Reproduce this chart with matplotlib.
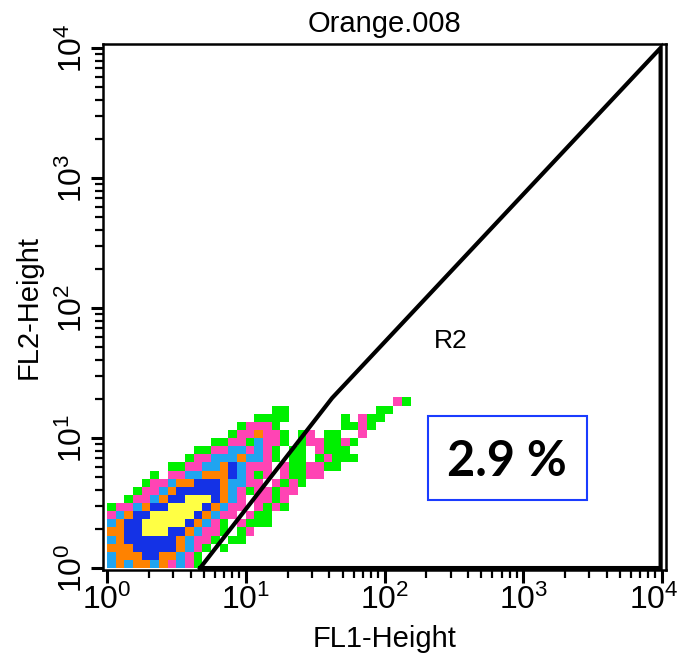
import numpy as np
import matplotlib
matplotlib.use('Agg')
import matplotlib.pyplot as plt
import matplotlib.transforms as mtrans
from matplotlib.colors import ListedColormap, BoundaryNorm
from matplotlib.ticker import LogLocator, NullFormatter
from matplotlib.patches import Rectangle

plt.rcParams['font.family'] = ['Liberation Sans', 'DejaVu Sans']

# density level per bin (16 bins per decade), bottom row first
# . = empty, 1 green, 2 pink, 3 light blue, 4 orange, 5 blue, 6 yellow
density_rows = [
    "34344342321",
    "34445544321",
    "444555554321.1",
    "3455555543221.11",
    "44556665543221.12",
    "34556666654321.2111",
    "234556666654322.211",
    "1223455666654322.2121",
    "..12234556665432.2212",
    "...1223455555432122122",
    "....12234455543322.2121",
    ".....1.223344453212.21122",
    ".......112233453222.2112211",
    ".........12233343321.11.12111",
    "..........1122332321.11.2111",
    "............112213221.1221121",
    "..............1224221.12.11..2",
    "...............12221.......1121",
    ".................1111......1.211",
    "...................11..........11",
    ".................................21",
]
level_colors = ['#00f000', '#ff44b4', '#20a4f0', '#ff8200', '#1432e6', '#ffff44']

decades = [1, 10, 100, 1000, 10000]
gate_x = [4.68, 41.9, 9800, 9800, 4.68]
gate_y = [1, 20.3, 10000, 1, 1]
gate_name = 'R2'
pct_label = '2.9 %'

ncol = max(len(r) for r in density_rows)
grid = np.array([[0 if c == '.' else int(c) for c in r.ljust(ncol, '.')] for r in density_rows])
xe = 10 ** (np.arange(grid.shape[1] + 1) / 16)
ye = 10 ** (np.arange(grid.shape[0] + 1) / 16)
cmap = ListedColormap(level_colors)
norm = BoundaryNorm(np.arange(0.5, 7.5, 1), cmap.N)

fig = plt.figure(figsize=(6.84, 6.60), dpi=100)
ax = fig.add_axes([103/684, 1 - 570/660, 563/684, 526/660])
ax.pcolormesh(xe, ye, np.ma.masked_equal(grid, 0), cmap=cmap, norm=norm)
ax.plot(gate_x, gate_y, color='black', lw=3, clip_on=False, solid_joinstyle='miter')
ax.text(300, 56, gate_name, fontsize=19, ha='center', va='center')

ax.set_xscale('log')
ax.set_yscale('log')
ax.set_xlim(10 ** -0.03, 10 ** 4.03)
ax.set_ylim(10 ** -0.015, 10 ** 4.03)
for a in (ax.xaxis, ax.yaxis):
    a.set_major_locator(LogLocator(base=10, numticks=10))
    a.set_minor_locator(LogLocator(base=10, subs=np.arange(2, 10), numticks=20))
    a.set_minor_formatter(NullFormatter())
for s in ax.spines.values():
    s.set_linewidth(1.8)
ax.tick_params(which='major', length=9, width=2.2, labelsize=23, direction='out')
ax.tick_params(which='minor', length=6, width=1.6, direction='out')
ax.tick_params(axis='x', which='major', labelbottom=False)
ax.tick_params(axis='y', which='major', pad=1, labelrotation=90)
for t in ax.get_yticklabels():
    t.set_va('center')

# x tick labels drawn by hand so the last one stays inside the figure
xtrans = mtrans.blended_transform_factory(ax.transData, ax.transAxes)
for d in decades:
    shift = -8 / 100 if d == decades[-1] else 0
    ax.text(d, -0.028, r'$\mathdefault{10^{%d}}$' % int(np.log10(d)), fontsize=23,
            ha='center', va='top',
            transform=xtrans + mtrans.ScaledTranslation(shift, 0, fig.dpi_scale_trans))

ax.set_title('Orange.008', fontsize=21, pad=9)
ax.set_xlabel('FL1-Height', fontsize=21, labelpad=30)
ax.set_ylabel('FL2-Height', fontsize=21, labelpad=11)

ax.add_patch(Rectangle((0.577, 0.133), 0.283, 0.16, transform=ax.transAxes,
                       fill=False, edgecolor='#1a3cff', lw=1.5))
ax.text(0.718, 0.207, pct_label, transform=ax.transAxes, fontsize=35,
        fontweight='bold', family=['Lato', 'DejaVu Sans'], ha='center', va='center')

fig.savefig('out.png', dpi=100)
